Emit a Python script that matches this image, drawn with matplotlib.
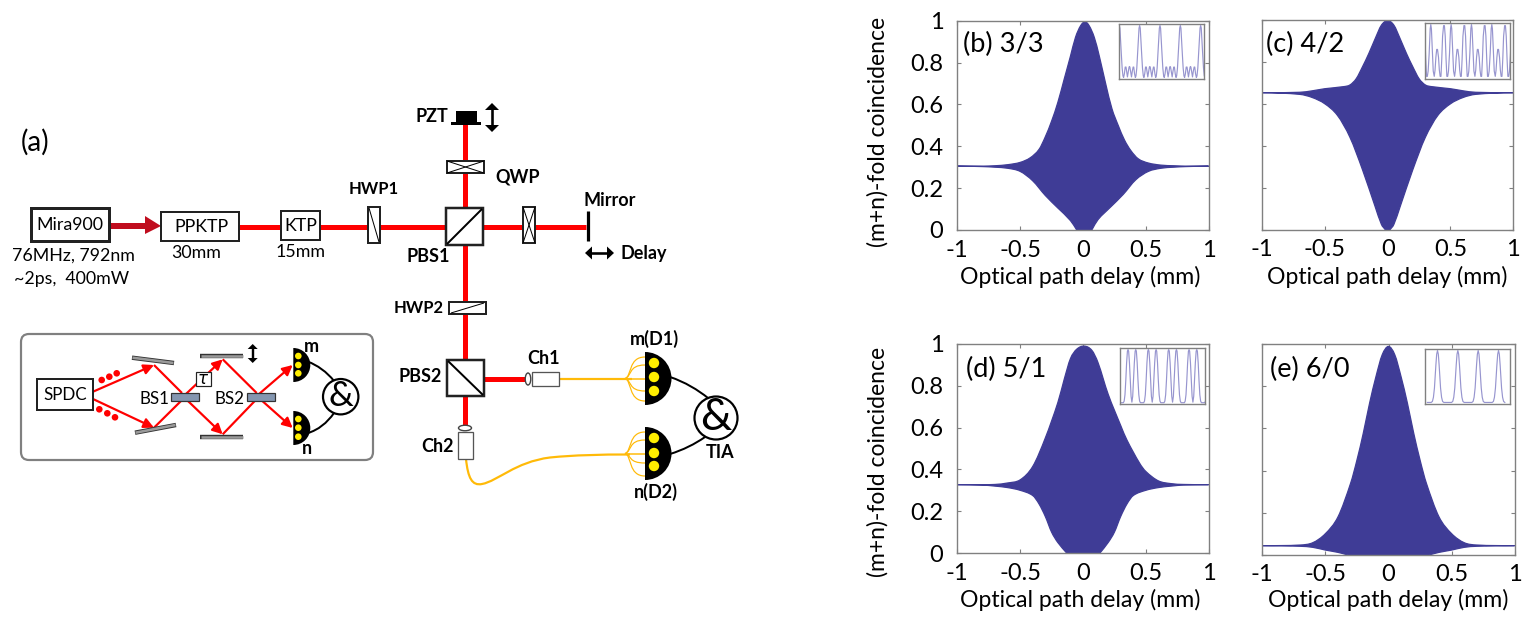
import numpy as np
import matplotlib
matplotlib.use("Agg")
import matplotlib.pyplot as plt
from matplotlib.patches import Rectangle, FancyBboxPatch, Circle, Wedge, Ellipse, PathPatch, Polygon
from matplotlib.path import Path

plt.rcParams['font.family'] = ['Lato', 'DejaVu Sans']

W, H = 1528, 623
# ---------- envelope data ----------
x_b_up = [-1, -.8, -.7, -.6, -.5, -.42, -.35, -.3, -.25, -.2, -.15, -.1, -.06, -.02, .016, .05, .09, .13, .18, .23, .28, .33, .38, .44, .52, .62, .72, .82, 1]
y_b_up = [.305, .305, .307, .312, .323, .345, .385, .445, .52, .61, .72, .83, .92, .975, .995, .975, .92, .83, .70, .58, .50, .43, .38, .34, .32, .31, .307, .305, .305]
x_b_lo = [-1, -.8, -.7, -.6, -.5, -.4, -.3, -.2, -.1, -.05, .07, .12, .22, .32, .42, .52, .62, .72, .82, 1]
y_b_lo = [.305, .303, .30, .295, .28, .235, .165, .105, .045, 0, 0, .05, .11, .17, .24, .28, .295, .30, .303, .305]

x_c_up = [-1, -.7, -.6, -.5, -.35, -.3, -.25, -.2, -.15, -.1, -.05, 0, .05, .1, .15, .2, .25, .3, .35, .5, .6, .7, 1]
y_c_up = [.653, .655, .662, .672, .682, .69, .72, .777, .84, .91, .975, .997, .975, .91, .84, .777, .72, .69, .682, .672, .662, .655, .653]
x_c_lo = [-1, -.7, -.6, -.5, -.4, -.3, -.2, -.1, -.05, -.02, .02, .05, .1, .2, .3, .4, .5, .6, .7, 1]
y_c_lo = [.653, .645, .63, .60, .545, .44, .285, .11, .025, 0, 0, .025, .11, .285, .44, .545, .60, .63, .645, .653]

x_d_up = [-1, -.8, -.7, -.6, -.5, -.4, -.3, -.2, -.15, -.1, -.05, .01, .07, .12, .2, .3, .35, .45, .5, .6, .7, .8, 1]
y_d_up = [.327, .327, .328, .335, .35, .414, .55, .72, .83, .93, .975, .99, .97, .91, .76, .61, .54, .43, .39, .345, .332, .328, .327]
x_d_lo = [-1, -.8, -.7, -.6, -.5, -.4, -.35, -.3, -.25, -.2, -.13, .135, .2, .25, .3, .35, .4, .5, .6, .7, .8, 1]
y_d_lo = [.327, .325, .32, .313, .30, .275, .235, .175, .10, .05, 0, 0, .05, .10, .175, .235, .275, .30, .313, .32, .325, .327]

x_e_up = [-1, -.7, -.6, -.5, -.4, -.3, -.25, -.2, -.15, -.1, -.05, 0, .05, .1, .15, .2, .25, .3, .4, .5, .6, .7, 1]
y_e_up = [.043, .046, .057, .10, .18, .34, .45, .577, .72, .845, .95, .99, .95, .845, .72, .577, .45, .34, .18, .10, .057, .046, .043]
x_e_lo = [-1, -.7, -.6, -.5, -.4, -.33, .33, .4, .5, .6, .7, 1]
y_e_lo = [.043, .04, .035, .022, .011, 0, 0, .011, .022, .035, .04, .043]

# ---------- inset fringe data: one period each, repeated along the scan ----------
ph_b = [0, .03, .06, .10, .14, .18, .21, .25, .29, .33, .36, .40, .44, .48, .50, .52, .56, .60, .64, .68, .71, .75, .79, .82, .86, .90, .94, .97]
v_b  = [1, .95, .75, .45, .18, .03, 0, .07, .2, .2, .12, .01, .1, .2, .21, .2, .1, .01, .12, .2, .2, .07, 0, .03, .18, .45, .75, .95]
ph_c = [0, .03, .08, .12, .17, .21, .25, .29, .33, .38, .42, .46, .50, .54, .58, .63, .67, .71, .75, .79, .83, .87, .92, .97]
v_c  = [1, .92, .45, .12, .02, .14, .38, .53, .53, .38, .14, .02, .02, .35, .78, .98, .98, .78, .35, .02, .02, .12, .45, .92]
ph_d = [0, .03, .07, .11, .15, .19, .23, .27, .31, .35, .38, .41, .45, .49, .53, .57, .61, .70, .77, .81, .85, .89, .93, .97]
v_d  = [1, .97, .75, .42, .12, .01, .12, .42, .75, .97, 1, .97, .75, .42, .15, .03, 0, 0, 0, .03, .15, .42, .75, .97]
ph_e = [0, .04, .08, .115, .15, .20, .25, .31, .40, .50, .60, .69, .75, .80, .85, .885, .92, .96]
v_e  = [1, .93, .72, .5, .28, .10, .02, 0, 0, 0, 0, 0, .02, .10, .28, .5, .72, .93]

ticks_x = [-1, -.5, 0, .5, 1]
ticks_y = [0, .2, .4, .6, .8, 1]
xticklabels = ['-1', '-0.5', '0', '0.5', '1']
yticklabels = ['0', '0.2', '0.4', '0.6', '0.8', '1']
xlabel = 'Optical path delay (mm)'
ylabel = '(m+n)-fold coincidence'

FILL = '#3f3c96'
LINE = '#9795cf'
GREY = '#808080'
RED = '#ff0000'
ORANGE = '#ffba08'

fig = plt.figure(figsize=(W / 100, H / 100), dpi=100, facecolor='white')


def axpx(l, t, r, b, **kw):
    return fig.add_axes([l / W, 1 - b / H, (r - l) / W, (b - t) / H], **kw)


# ---------- schematic overlay in pixel coordinates ----------
s = axpx(0, 0, W, H)
s.set_xlim(0, W)
s.set_ylim(H, 0)
s.axis('off')
PX = 0.72
BOLD = 18


def txt(x, y, t, size=17.7, bold=False, **kw):
    s.text(x, y, t, fontsize=size * PX, fontweight='bold' if bold else 'normal',
           ha=kw.pop('ha', 'center'), va='center', color='black', zorder=8, **kw)


def box(x0, y0, x1, y1, lw=2, ec='#222222', fc='white', z=4):
    s.add_patch(Rectangle((x0, y0), x1 - x0, y1 - y0, fc=fc, ec=ec, lw=lw * PX, zorder=z))


def ln(xs, ys, c='black', lw=1.5, z=5):
    s.plot(xs, ys, color=c, lw=lw * PX, solid_capstyle='butt', zorder=z)


def curve(pts, c='black', lw=2, z=3):
    codes = [Path.MOVETO] + [Path.CURVE4] * (len(pts) - 1)
    s.add_patch(PathPatch(Path(pts, codes), fc='none', ec=c, lw=lw * PX, zorder=z, capstyle='butt'))


def arrow(p0, p1, style='-|>', c=RED, lw=2.2, ms=15, z=3):
    s.annotate('', xy=p1, xytext=p0, zorder=z,
               arrowprops=dict(arrowstyle=style, color=c, lw=lw * PX, shrinkA=0, shrinkB=0,
                               mutation_scale=ms, fc=c))


def double_arrow(x0, y0, x1, y1, hl, hw, lw):
    """Black double-headed arrow along a horizontal or vertical line."""
    ux, uy = (x1 > x0) * 1.0, (y1 > y0) * 1.0
    ln([x0 + ux * hl / 2, x1 - ux * hl / 2], [y0 + uy * hl / 2, y1 - uy * hl / 2], 'black', lw, 5)
    for (tx, ty), sgn in (((x0, y0), 1), ((x1, y1), -1)):
        bx, by = tx + sgn * ux * hl, ty + sgn * uy * hl
        s.add_patch(Polygon([[tx, ty], [bx + uy * hw, by + ux * hw], [bx - uy * hw, by - ux * hw]],
                            fc='black', ec='none', zorder=5))


def xbox(x0, y0, x1, y1):
    box(x0, y0, x1, y1)
    ln([x0, x1], [y0, y1], lw=1)
    ln([x0, x1], [y1, y0], lw=1)


def detector(x, yc, r, dotx, doty, dotr):
    s.add_patch(Wedge((x, yc), r, -90, 90, fc='black', ec='black', lw=0, zorder=5))
    for y in doty:
        s.add_patch(Circle((dotx, y), dotr, fc='#ffee00', ec='none', zorder=6))


def andgate(x, y, r, size):
    s.add_patch(Circle((x, y), r, fc='white', ec='black', lw=2.2 * PX, zorder=6))
    s.text(x, y - 1, '&', fontsize=size * PX, ha='center', va='center', zorder=7)


def smooth_outline(xu, yu, xl, yl):
    """Closed outline through the read points (upper left-to-right, lower back)."""
    def seg(x, y):
        x, y = np.asarray(x, float), np.asarray(y, float)
        m = np.zeros(len(x))
        m[1:-1] = (y[2:] - y[:-2]) / (x[2:] - x[:-2])
        for i in range(1, len(x) - 1):
            if y[i] == y[i + 1]:
                m[i] = (y[i] - y[i - 1]) / (x[i] - x[i - 1])
            elif y[i] == y[i - 1]:
                m[i] = (y[i + 1] - y[i]) / (x[i + 1] - x[i])
        pts = []
        for i in range(len(x) - 1):
            d = (x[i + 1] - x[i]) / 3
            pts += [(x[i] + d, y[i] + m[i] * d), (x[i + 1] - d, y[i + 1] - m[i + 1] * d), (x[i + 1], y[i + 1])]
        return pts
    up = seg(xu, yu)
    lo = seg(xl, yl)
    rev = []
    pts_lo = [(xl[0], yl[0])] + lo
    for i in range(len(pts_lo) - 1, 0, -3):
        rev += [pts_lo[i - 1], pts_lo[i - 2], pts_lo[i - 3]]
    verts = [(xu[0], yu[0])] + up + [(xl[-1], yl[-1])] + rev + [(xu[0], yu[0])]
    codes = [Path.MOVETO] + [Path.CURVE4] * len(up) + [Path.LINETO] + [Path.CURVE4] * len(rev) + [Path.CLOSEPOLY]
    return Path(verts, codes)


txt(21, 142, '(a)', 28, ha='left')

# main beam line
ln([109, 147], [226, 226], '#c00d1e', 6, 2)
s.add_patch(Polygon([[145, 216], [161, 226], [145, 234]], fc='#c00d1e', ec='none', zorder=3))
ln([239, 586], [226.7, 226.7], RED, 5, 2)
ln([465.3, 465.3], [123, 425], RED, 5, 2)
ln([484, 525], [379, 379], RED, 5, 2)

box(31, 208, 109, 241, 3)
txt(69.5, 225, 'Mira900')
box(160.5, 212, 239, 241)
txt(201, 227, 'PPKTP')
box(281, 211, 320, 240)
txt(300.5, 226, 'KTP')
txt(73, 256, '76MHz, 792nm')
txt(72, 279, '~2ps,  400mW')
txt(196, 253.5, '30mm')
txt(301, 252, '15mm')

box(368, 207, 380, 243)
ln([369, 379], [208, 242], lw=1)
txt(374, 189, 'HWP1', 16.5, True)

box(446, 208, 483, 245, 2.5)
ln([447, 482], [244, 209], lw=2)
txt(428, 257, 'PBS1', BOLD, True)
xbox(447, 161, 484, 173)
txt(518, 177, 'QWP', BOLD, True)
xbox(523, 207, 535, 243)

s.add_patch(Rectangle((456, 111), 21, 11, fc='black', ec='none', zorder=5))
s.add_patch(Rectangle((451, 122), 30, 3, fc='black', ec='none', zorder=5))
txt(432, 117, 'PZT', BOLD, True)
double_arrow(492, 103, 492, 132, 7, 7, 2.6)

ln([587.7, 587.7], [211, 241], lw=3.2)
txt(610, 201, 'Mirror', BOLD, True)
double_arrow(585, 253, 614, 253, 7, 6.5, 2.6)
txt(644, 253, 'Delay', BOLD, True)

box(449, 302, 486, 314)
ln([451, 484], [313, 303], lw=1)
txt(419, 308, 'HWP2', 16.5, True)

box(447, 360, 484, 396, 2.5)
ln([448, 483], [361, 395], lw=2)
txt(420, 377, 'PBS2', BOLD, True)

s.add_patch(Ellipse((528, 379), 5.5, 12, fc='white', ec='#444444', lw=1, zorder=5))
box(532, 372, 559, 386, 1.3, '#555555')
txt(544, 359, 'Ch1', BOLD, True)
s.add_patch(Ellipse((465, 428), 13, 5.5, fc='white', ec='#444444', lw=1, zorder=5))
box(458, 432, 473, 459, 1.3, '#555555')
txt(438, 446, 'Ch2', BOLD, True)

# fibres
ln([559, 632], [379, 379], ORANGE, 2.2, 3)
curve([(466, 459), (468, 478), (472, 486), (482, 484), (498, 481), (515, 462), (550, 457.5),
       (575, 455), (600, 454.5), (630, 454.5)], ORANGE, 2.2)
for yc, ys in ((378.5, [357, 365, 391, 401]), (453.5, [432, 440, 463, 476])):
    for y in ys:
        curve([(625, yc), (632, yc - 2 if y < yc else yc + 2), (628, y), (645, y)], ORANGE, 1.2)
    ln([625, 645], [yc, yc], ORANGE, 1.5, 3)

detector(645, 378.5, 26.5, 654, [363, 377, 391], 5.2)
detector(645, 453.5, 26.5, 654, [438, 453, 466], 5.2)
curve([(670, 377), (685, 382), (698, 390), (708, 398)])
curve([(670, 454), (683, 450), (695, 444), (705, 437)])
andgate(716, 418, 21.5, 44)
txt(654, 339, 'm(D1)', BOLD, True)
txt(656, 492, 'n(D2)', BOLD, True)
txt(720, 453, 'TIA', BOLD, True)

# inset schematic
s.add_patch(FancyBboxPatch((29, 342), 336, 110, boxstyle='round,pad=8,rounding_size=8',
                           fc='white', ec=GREY, lw=2.2 * PX, zorder=1))
box(37, 379, 93, 410)
txt(65, 395, 'SPDC', 17)
for a, b in (((93, 391.7), (154, 365)), ((93, 399), (154, 427.7)),
             ((181.7, 398), (222.7, 359.3)), ((181.7, 395), (222.7, 434.3)),
             ((256.7, 396), (292.7, 365)), ((256.7, 396), (292.7, 428))):
    arrow(a, b)
for a, b in (((154, 365), (182, 393)), ((154, 427.7), (182, 400)),
             ((222.7, 359.3), (256.7, 393)), ((222.7, 434.3), (256.7, 399))):
    ln([a[0], b[0]], [a[1], b[1]], RED, 2.2, 3)
for p, q in (((132, 357.7), (174, 363)), ((135, 432.7), (176, 425)),
             ((200, 355.7), (243, 355.7)), ((200, 436.7), (243, 436.7))):
    ln([p[0], q[0]], [p[1], q[1]], '#333333', 4.4, 4)
    ln([p[0] + .5, q[0] - .5], [p[1], q[1]], '#9a9a9a', 2.6, 5)
box(170.7, 392.7, 199, 400.7, 1.2, '#333333', '#8496b0')
box(247, 392.7, 275, 400.7, 1.2, '#333333', '#8496b0')
txt(154.3, 399, 'BS1', 17)
txt(230, 399, 'BS2', 17)
box(196, 372, 210.7, 386, 1.2)
s.text(203.5, 379.5, r'$\tau$', fontsize=12, ha='center', va='center', zorder=8)
for x, y in ((101.7, 380), (109.3, 376.7), (116.7, 373.3), (99.3, 409.3), (107.3, 413.3), (115, 417.3)):
    s.add_patch(Circle((x, y), 3.3, fc=RED, ec='none', zorder=4))
double_arrow(252.7, 344, 252.7, 363, 5, 5, 2.4)
detector(293.3, 365, 17, 298.3, [356, 365, 373.3], 3.3)
detector(293.3, 428, 17, 298.3, [419, 427.7, 436.7], 3.3)
curve([(308, 361.7), (317, 365), (327, 372), (334, 381)])
curve([(308, 433), (318, 430), (327, 423), (334, 413)])
andgate(340.7, 396.7, 17.7, 35)
txt(311.7, 346.7, 'm', BOLD, True)
txt(307, 449, 'n', BOLD, True)

# ---------- chart panels ----------
panels = [
    ((957.3, 20.7, 1208.7, 230), x_b_up, y_b_up, x_b_lo, y_b_lo, '(b) 3/3', (963, 44), 0.47,
     (1119.3, 24, 1203.7, 79), ph_b, v_b, (0.0, 4.15), None, 277),
    ((1262, 20, 1513.3, 229.5), x_c_up, y_c_up, x_c_lo, y_c_lo, '(c) 4/2', (1266, 44), None,
     (1425.3, 23, 1509.7, 79), ph_c, v_c, (-.27, 3.88), None, 277),
    ((957.3, 344, 1208.7, 553), x_d_up, y_d_up, x_d_lo, y_d_lo, '(d) 5/1', (966, 369), 0.435,
     (1120.3, 348, 1204.7, 404.3), ph_d, v_d, (-.38, 3.77), None, 600),
    ((1262.3, 344.3, 1514.7, 554.7), x_e_up, y_e_up, x_e_lo, y_e_lo, '(e) 6/0', (1270, 369), None,
     (1425.3, 349, 1509.7, 404), ph_e, v_e, (-.6, 3.55), (-.5, 3.35), 600),
]
for rect, xu, yu, xl, yl, label, lpos, ylab, irect, ph, v, ilim, crop, xlab_y in panels:
    ax = axpx(*rect)
    ax.patch.set_alpha(0)
    ax.add_patch(PathPatch(smooth_outline(xu, yu, xl, yl), fc=FILL, ec=FILL, lw=0.9, zorder=2))
    ax.set_xlim(-1, 1)
    ax.set_ylim(0, 1)
    showy = ylab is not None
    ax.set_xticks(ticks_x, xticklabels)
    ax.set_yticks(ticks_y, yticklabels if showy else [''] * len(ticks_y))
    ax.tick_params(direction='in', top=True, right=True, length=3, width=0.8, color=GREY,
                   labelsize=17, labelcolor='black')
    ax.tick_params(axis='x', pad=7)
    ax.tick_params(axis='y', pad=10)
    for sp in ax.spines.values():
        sp.set_color(GREY)
        sp.set_linewidth(1.0)
    ax.set_xlabel(xlabel, fontsize=16.6, va='center')
    ax.xaxis.set_label_coords(0.49 if showy else 0.5, (rect[3] - xlab_y) / (rect[3] - rect[1]))
    if showy:
        ax.set_ylabel(ylabel, fontsize=16.5, va='center')
        ax.yaxis.set_label_coords((878 - rect[0]) / (rect[2] - rect[0]), ylab)
    fig.text(lpos[0] / W, 1 - lpos[1] / H, label, fontsize=19.5, va='center', ha='left', zorder=20)

    ins = axpx(*irect)
    ins.set_zorder(10)
    px = np.concatenate([np.asarray(ph) + k for k in range(-1, 5)])
    py = np.tile(np.asarray(v), 6)
    if crop is not None:
        keep = (px >= crop[0]) & (px <= crop[1])
        px, py = px[keep], py[keep]
    ins.plot(px, py, color=LINE, lw=0.85)
    ins.set_xlim(*ilim)
    ins.set_ylim(-.03, 1.03)
    ins.set_xticks([])
    ins.set_yticks([])
    for sp in ins.spines.values():
        sp.set_color(GREY)
        sp.set_linewidth(1.0)

fig.savefig('out.png', dpi=100, facecolor='white')
